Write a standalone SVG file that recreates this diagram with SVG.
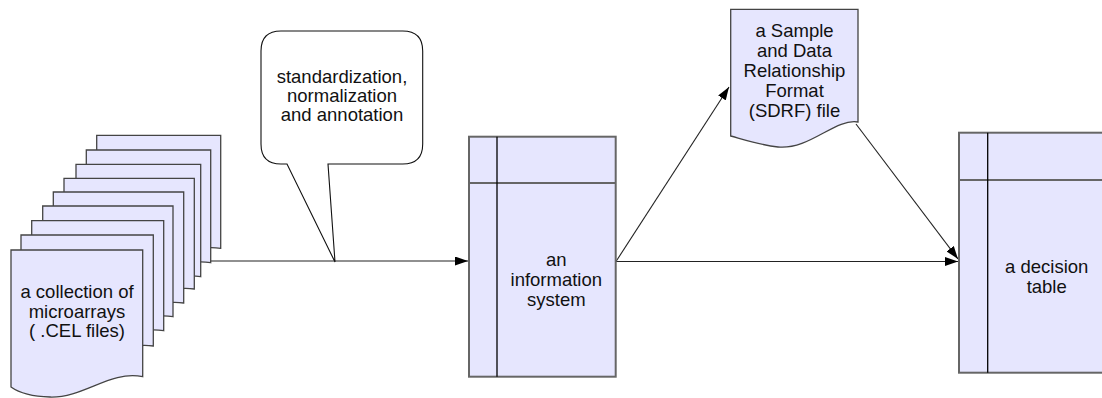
<svg xmlns="http://www.w3.org/2000/svg" width="1102" height="398" viewBox="0 0 1102 398">
<defs>
<marker id="arr" markerWidth="13" markerHeight="9" refX="13" refY="4.5" orient="auto" markerUnits="userSpaceOnUse">
<path d="M0,0 L13,4.5 L0,9 Z" fill="#000"/>
</marker>
<style>
.doc{fill:#e6e6fe;stroke:#444;stroke-width:1.3}
.tbl{fill:#e6e6fe;stroke:#666;stroke-width:2}
.hdr{stroke:#666;stroke-width:2}
.col{stroke:#000;stroke-width:1.3}
.con{fill:none;stroke:#222;stroke-width:1.1}
.t{font-family:"Liberation Sans",Arial,sans-serif;font-size:18.5px;fill:#111;text-anchor:middle}
</style>
</defs>
<rect width="1102" height="398" fill="#fff"/>
<g id="connectors">
<path class="con" d="M211,261 H468" marker-end="url(#arr)"/>
<path class="con" d="M616,261.5 H958" marker-end="url(#arr)"/>
<path class="con" d="M616,261.5 L729,87" marker-end="url(#arr)"/>
<path class="con" d="M856,124 L958,259" marker-end="url(#arr)"/>
</g>
<g id="microarrays">
<path class="doc" d="M96.7,135.3 H220.7 V248.3 C190,244 170,262 140,262 C120,262 105,258 96.7,256 Z"/>
<path class="doc" d="M86.3,150 H210.7 V262.7 C180,258 160,276 130,276 C110,276 95,272 86.3,270 Z"/>
<path class="doc" d="M76,164.3 H200.7 V276.7 C170,272 150,290 120,290 C100,290 85,286 76,284 Z"/>
<path class="doc" d="M64,178.3 H194.3 V289 C164,285 144,303 114,303 C94,303 79,299 64,297 Z"/>
<path class="doc" d="M53.3,192 H183.7 V303 C153,299 133,317 103,317 C83,317 68,313 53.3,311 Z"/>
<path class="doc" d="M42.7,206 H173 V316.7 C143,312 123,330 93,330 C73,330 58,326 42.7,324 Z"/>
<path class="doc" d="M31.7,220.7 H163.7 V330.7 C133,326 113,344 83,344 C63,344 48,340 31.7,338 Z"/>
<path class="doc" d="M21,235 H153.3 V346 C123,342 103,360 73,360 C53,360 38,356 21,354 Z"/>
<path class="doc" d="M11,250 H142.7 V376.7 C110,370 84,398 50,397 C31,396.5 18,392 11,387 Z"/>
<text class="t" x="77" y="298">a collection of</text>
<text class="t" x="77" y="317.5">microarrays</text>
<text class="t" x="77" y="337">( .CEL files)</text>
</g>
<g id="callout">
<path d="M281,31 H402.7 Q422.7,31 422.7,51 V144 Q422.7,164 402.7,164 H328 L335,262 L287,164 H281 Q261,164 261,144 V51 Q261,31 281,31 Z" fill="#fff" stroke="#111" stroke-width="1.1"/>
<text class="t" x="342" y="83">standardization,</text>
<text class="t" x="342" y="102">normalization</text>
<text class="t" x="342" y="121">and annotation</text>
</g>
<g id="info-system">
<rect class="tbl" x="469" y="136.7" width="146.7" height="240"/>
<line class="hdr" x1="469" y1="183" x2="615.7" y2="183"/>
<line class="col" x1="497" y1="136.7" x2="497" y2="376.7"/>
<text class="t" x="556.3" y="266">an</text>
<text class="t" x="556.3" y="286">information</text>
<text class="t" x="556.3" y="305.5">system</text>
</g>
<g id="sdrf">
<path class="doc" d="M730.7,9.3 H858 V122 C835,118 810,150 778,147 C760,145 745,140 730.7,136 Z"/>
<text class="t" x="794.5" y="37">a Sample</text>
<text class="t" x="794.5" y="57">and Data</text>
<text class="t" x="794.5" y="77">Relationship</text>
<text class="t" x="794.5" y="96.5">Format</text>
<text class="t" x="794.5" y="116.5">(SDRF) file</text>
</g>
<g id="decision-table">
<rect class="tbl" x="959" y="132.7" width="146.7" height="240"/>
<line class="hdr" x1="959" y1="180" x2="1105.7" y2="180"/>
<line class="col" x1="987.7" y1="132.7" x2="987.7" y2="372.7"/>
<text class="t" x="1046.7" y="273">a decision</text>
<text class="t" x="1046.7" y="293">table</text>
</g>
</svg>
